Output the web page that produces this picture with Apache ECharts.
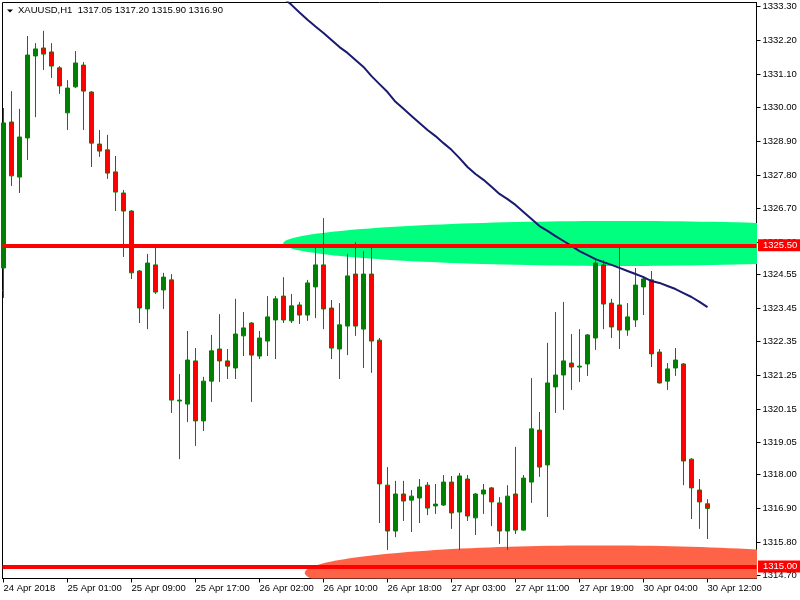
<!DOCTYPE html>
<html><head><meta charset="utf-8">
<script src="https://cdn.jsdelivr.net/npm/echarts@6/dist/echarts.min.js"></script>
<style>html,body{margin:0;padding:0;background:#fff}#c{width:800px;height:600px}</style>
</head><body><div id="c"></div>
<script>
const symbolName = 'XAUUSD,H1';
const lastQuote = [1317.05, 1317.20, 1315.90, 1316.90];
const opens = [1324.76,1329.53,1327.73,1329.01,1331.69,1331.95,1331.82,1331.30,1329.83,1330.68,
1331.39,1330.51,1328.81,1328.62,1327.90,1327.21,1326.62,1324.66,1323.42,1324.86,
1324.04,1324.37,1320.41,1320.31,1321.72,1319.76,1321.06,1322.11,1321.72,1321.49,
1322.54,1322.96,1321.88,1322.37,1323.06,1323.84,1323.03,1323.55,1323.22,1324.14,
1324.86,1323.45,1322.11,1322.86,1324.56,1322.76,1324.56,1322.40,1317.66,1316.16,
1317.37,1317.17,1317.24,1317.66,1316.98,1317.01,1317.76,1316.78,1317.86,1316.59,
1317.37,1317.57,1317.08,1316.16,1317.37,1316.19,1317.76,1319.46,1318.32,1320.87,
1321.26,1321.65,1321.52,1321.62,1322.47,1324.86,1323.61,1323.55,1322.73,1323.06,
1324.14,1324.37,1322.01,1321.06,1321.49,1321.62,1318.51,1317.50,1317.05];
const highs = [1329.99,1330.54,1329.96,1332.34,1332.11,1332.51,1332.11,1331.36,1330.90,1331.85,
1331.49,1330.54,1329.27,1329.11,1328.42,1327.31,1326.65,1324.69,1325.22,1325.54,
1324.60,1324.56,1321.29,1322.70,1322.14,1321.20,1322.57,1323.25,1322.11,1323.75,
1323.32,1322.99,1322.70,1323.84,1323.84,1324.46,1323.91,1323.65,1324.37,1325.41,
1326.39,1323.71,1323.61,1325.22,1325.61,1325.31,1325.44,1322.47,1318.25,1317.80,
1317.80,1317.50,1317.86,1317.76,1317.70,1317.99,1317.96,1318.06,1317.99,1317.40,
1317.70,1317.60,1317.27,1317.66,1318.91,1317.99,1321.16,1320.05,1322.31,1323.32,
1323.65,1322.60,1322.76,1322.60,1325.02,1325.02,1323.75,1325.41,1323.61,1324.76,
1324.50,1324.66,1322.11,1321.65,1322.14,1321.65,1318.54,1317.86,1317.20];
const lows = [1323.78,1327.44,1327.21,1328.29,1329.69,1331.23,1330.97,1330.45,1329.27,1330.64,
1329.27,1328.06,1328.39,1327.67,1326.62,1325.12,1324.40,1322.96,1322.76,1323.91,
1323.42,1320.02,1318.51,1319.72,1318.94,1319.43,1320.38,1321.03,1321.13,1321.13,
1321.88,1320.38,1321.78,1321.88,1321.78,1322.96,1322.96,1322.93,1323.03,1323.12,
1322.76,1321.78,1321.13,1321.91,1322.54,1321.49,1321.33,1316.42,1315.54,1315.96,
1316.49,1316.13,1316.42,1316.68,1316.72,1316.98,1316.23,1315.54,1316.49,1316.03,
1316.72,1316.32,1315.74,1315.54,1316.06,1316.17,1317.08,1317.93,1316.62,1320.02,
1320.12,1320.77,1321.03,1321.23,1322.08,1322.76,1322.47,1322.11,1322.54,1322.83,
1323.22,1321.52,1320.98,1320.77,1321.23,1317.66,1316.55,1316.23,1315.90];
const closes = [1329.50,1327.77,1329.04,1331.72,1331.92,1331.75,1331.36,1330.71,1330.64,1331.46,
1330.54,1328.84,1328.58,1327.86,1327.24,1326.62,1324.60,1323.45,1324.92,1323.97,
1324.46,1320.44,1320.44,1321.75,1319.76,1321.06,1322.05,1321.72,1321.55,1322.60,
1322.80,1321.91,1322.47,1323.16,1323.75,1323.06,1323.52,1323.22,1324.27,1324.86,
1323.42,1322.14,1322.90,1324.50,1322.86,1324.56,1322.37,1317.70,1316.16,1317.37,
1317.14,1317.30,1317.60,1316.91,1317.04,1317.76,1316.75,1317.96,1316.65,1317.37,
1317.50,1317.11,1316.16,1317.30,1316.19,1317.89,1319.50,1318.25,1321.00,1321.26,
1321.72,1321.52,1321.55,1322.57,1324.92,1323.58,1322.83,1322.73,1323.16,1324.20,
1324.40,1321.95,1321.00,1321.46,1321.75,1318.45,1317.57,1317.11,1316.90];
const maStartBar = 35;
const maValues = [1333.58,1333.36,1333.11,1332.87,1332.65,1332.44,1332.21,1331.98,1331.79,1331.56,
1331.33,1331.03,1330.77,1330.51,1330.19,1329.96,1329.73,1329.50,1329.27,1329.07,
1328.84,1328.62,1328.35,1328.06,1327.83,1327.64,1327.41,1327.18,1327.01,1326.82,
1326.59,1326.36,1326.13,1325.97,1325.80,1325.64,1325.48,1325.31,1325.18,1325.05,
1324.95,1324.86,1324.76,1324.66,1324.56,1324.46,1324.33,1324.27,1324.17,1324.07,
1323.94,1323.81,1323.65,1323.48];
const timeTickBars = [0,8,16,24,32,40,48,56,64,72,80,88];
const timeTickLabels = ['24 Apr 2018','25 Apr 01:00','25 Apr 09:00','25 Apr 17:00','26 Apr 02:00','26 Apr 10:00',
'26 Apr 18:00','27 Apr 03:00','27 Apr 11:00','27 Apr 19:00','30 Apr 04:00','30 Apr 12:00'];
const priceTicks = [1333.30,1332.20,1331.10,1330.00,1328.90,1327.80,1326.70,1325.60,1324.55,1323.45,
1322.35,1321.25,1320.15,1319.05,1318.00,1316.90,1315.80,1314.70];
const levelPrices = [1325.50, 1315.00];
const bidPrice = 1316.90;
// zones: [center bar, center price, radius in bars, radius in price]
const greenZone = [77.06, 1325.56, 42.1, 0.735];
const redZone = [74.56, 1314.79, 36.9, 0.90];

const FONT = "'Liberation Sans',Arial,sans-serif";
const FS = 9.5;
const chart = echarts.init(document.getElementById('c'), null, {renderer: 'canvas'});
const candleData = opens.map((o, i) => [i, o, closes[i], lows[i], highs[i]]);
const maData = maValues.map((v, i) => [maStartBar + i, v]);

function zoneSeries(zone, color, z) {
  return {
    type: 'custom', z: z, clip: true, silent: true, data: [zone],
    renderItem: function (params, api) {
      const cx = api.value(0), cy = api.value(1), rx = api.value(2), ry = api.value(3);
      const pts = [];
      for (let k = 0; k < 180; k++) {
        const t = 2 * Math.PI * k / 180;
        pts.push(api.coord([cx + rx * Math.cos(t), cy + ry * Math.sin(t)]));
      }
      return {type: 'polygon', shape: {points: pts}, style: {fill: color}};
    }
  };
}

const priceLabel = (bg) => ({
  show: true, position: 'end', distance: 1.5,
  formatter: p => Number(p.value).toFixed(2),
  color: '#fff', backgroundColor: bg, padding: [1, 4, 0, 5],
  fontFamily: FONT, fontSize: FS, lineHeight: 11
});

chart.setOption({
  animation: false,
  backgroundColor: '#fff',
  textStyle: {fontFamily: FONT},
  title: {
    text: symbolName + '  ' + lastQuote.map(v => v.toFixed(2)).join(' '),
    left: 18, top: 5, padding: 0,
    textStyle: {fontFamily: FONT, fontSize: FS, fontWeight: 'normal', color: '#000'}
  },
  graphic: [{type: 'polygon', shape: {points: [[7, 9.5], [13, 9.5], [10, 12.5]]}, style: {fill: '#000'}}],
  grid: {left: 2.5, right: 43.5, top: 2.5, bottom: 21.5, show: true, borderColor: '#000', borderWidth: 1, backgroundColor: '#fff'},
  xAxis: {
    type: 'value', min: -0.125, max: 94.125,
    axisLine: {show: true, lineStyle: {color: '#000', width: 1}},
    splitLine: {show: false},
    axisTick: {show: true, customValues: timeTickBars, length: 4, lineStyle: {color: '#000'}},
    axisLabel: {customValues: timeTickBars, formatter: v => timeTickLabels[timeTickBars.indexOf(Math.round(v))] || '',
      align: 'left', margin: 5, color: '#000', fontSize: FS, fontFamily: FONT}
  },
  yAxis: {
    type: 'value', position: 'right', min: 1314.608, max: 1333.437, scale: true,
    axisLine: {show: true, onZero: false, lineStyle: {color: '#000', width: 1}},
    splitLine: {show: false},
    axisTick: {show: true, customValues: priceTicks, length: 4, lineStyle: {color: '#000'}},
    axisLabel: {customValues: priceTicks, formatter: v => v.toFixed(2), margin: 6, color: '#000', fontSize: FS, fontFamily: FONT}
  },
  series: [
    zoneSeries(greenZone, '#00FF7F', 1),
    zoneSeries(redZone, '#FF6347', 1),
    {
      type: 'candlestick', data: candleData, barWidth: 4, z: 2, silent: true,
      itemStyle: {color: '#008000', color0: '#FF0000', borderColor: '#008000', borderColor0: '#008000', borderColorDoji: '#008000', borderWidth: 1}
    },
    {
      type: 'line', data: [], z: 3, silent: true,
      markLine: {
        symbol: 'none', silent: true, animation: false,
        data: levelPrices.map(p => ({yAxis: p, lineStyle: {color: '#FF0000', width: 4, type: 'solid'}, label: priceLabel('#FF0000')}))
          .concat([{yAxis: bidPrice, lineStyle: {width: 0, opacity: 0}, label: priceLabel('#000000')}])
      }
    },
    {
      type: 'line', data: maData, z: 4, silent: true, showSymbol: false, symbol: 'none', clip: true,
      lineStyle: {color: '#1a1a6e', width: 2}
    }
  ]
});
</script></body></html>
